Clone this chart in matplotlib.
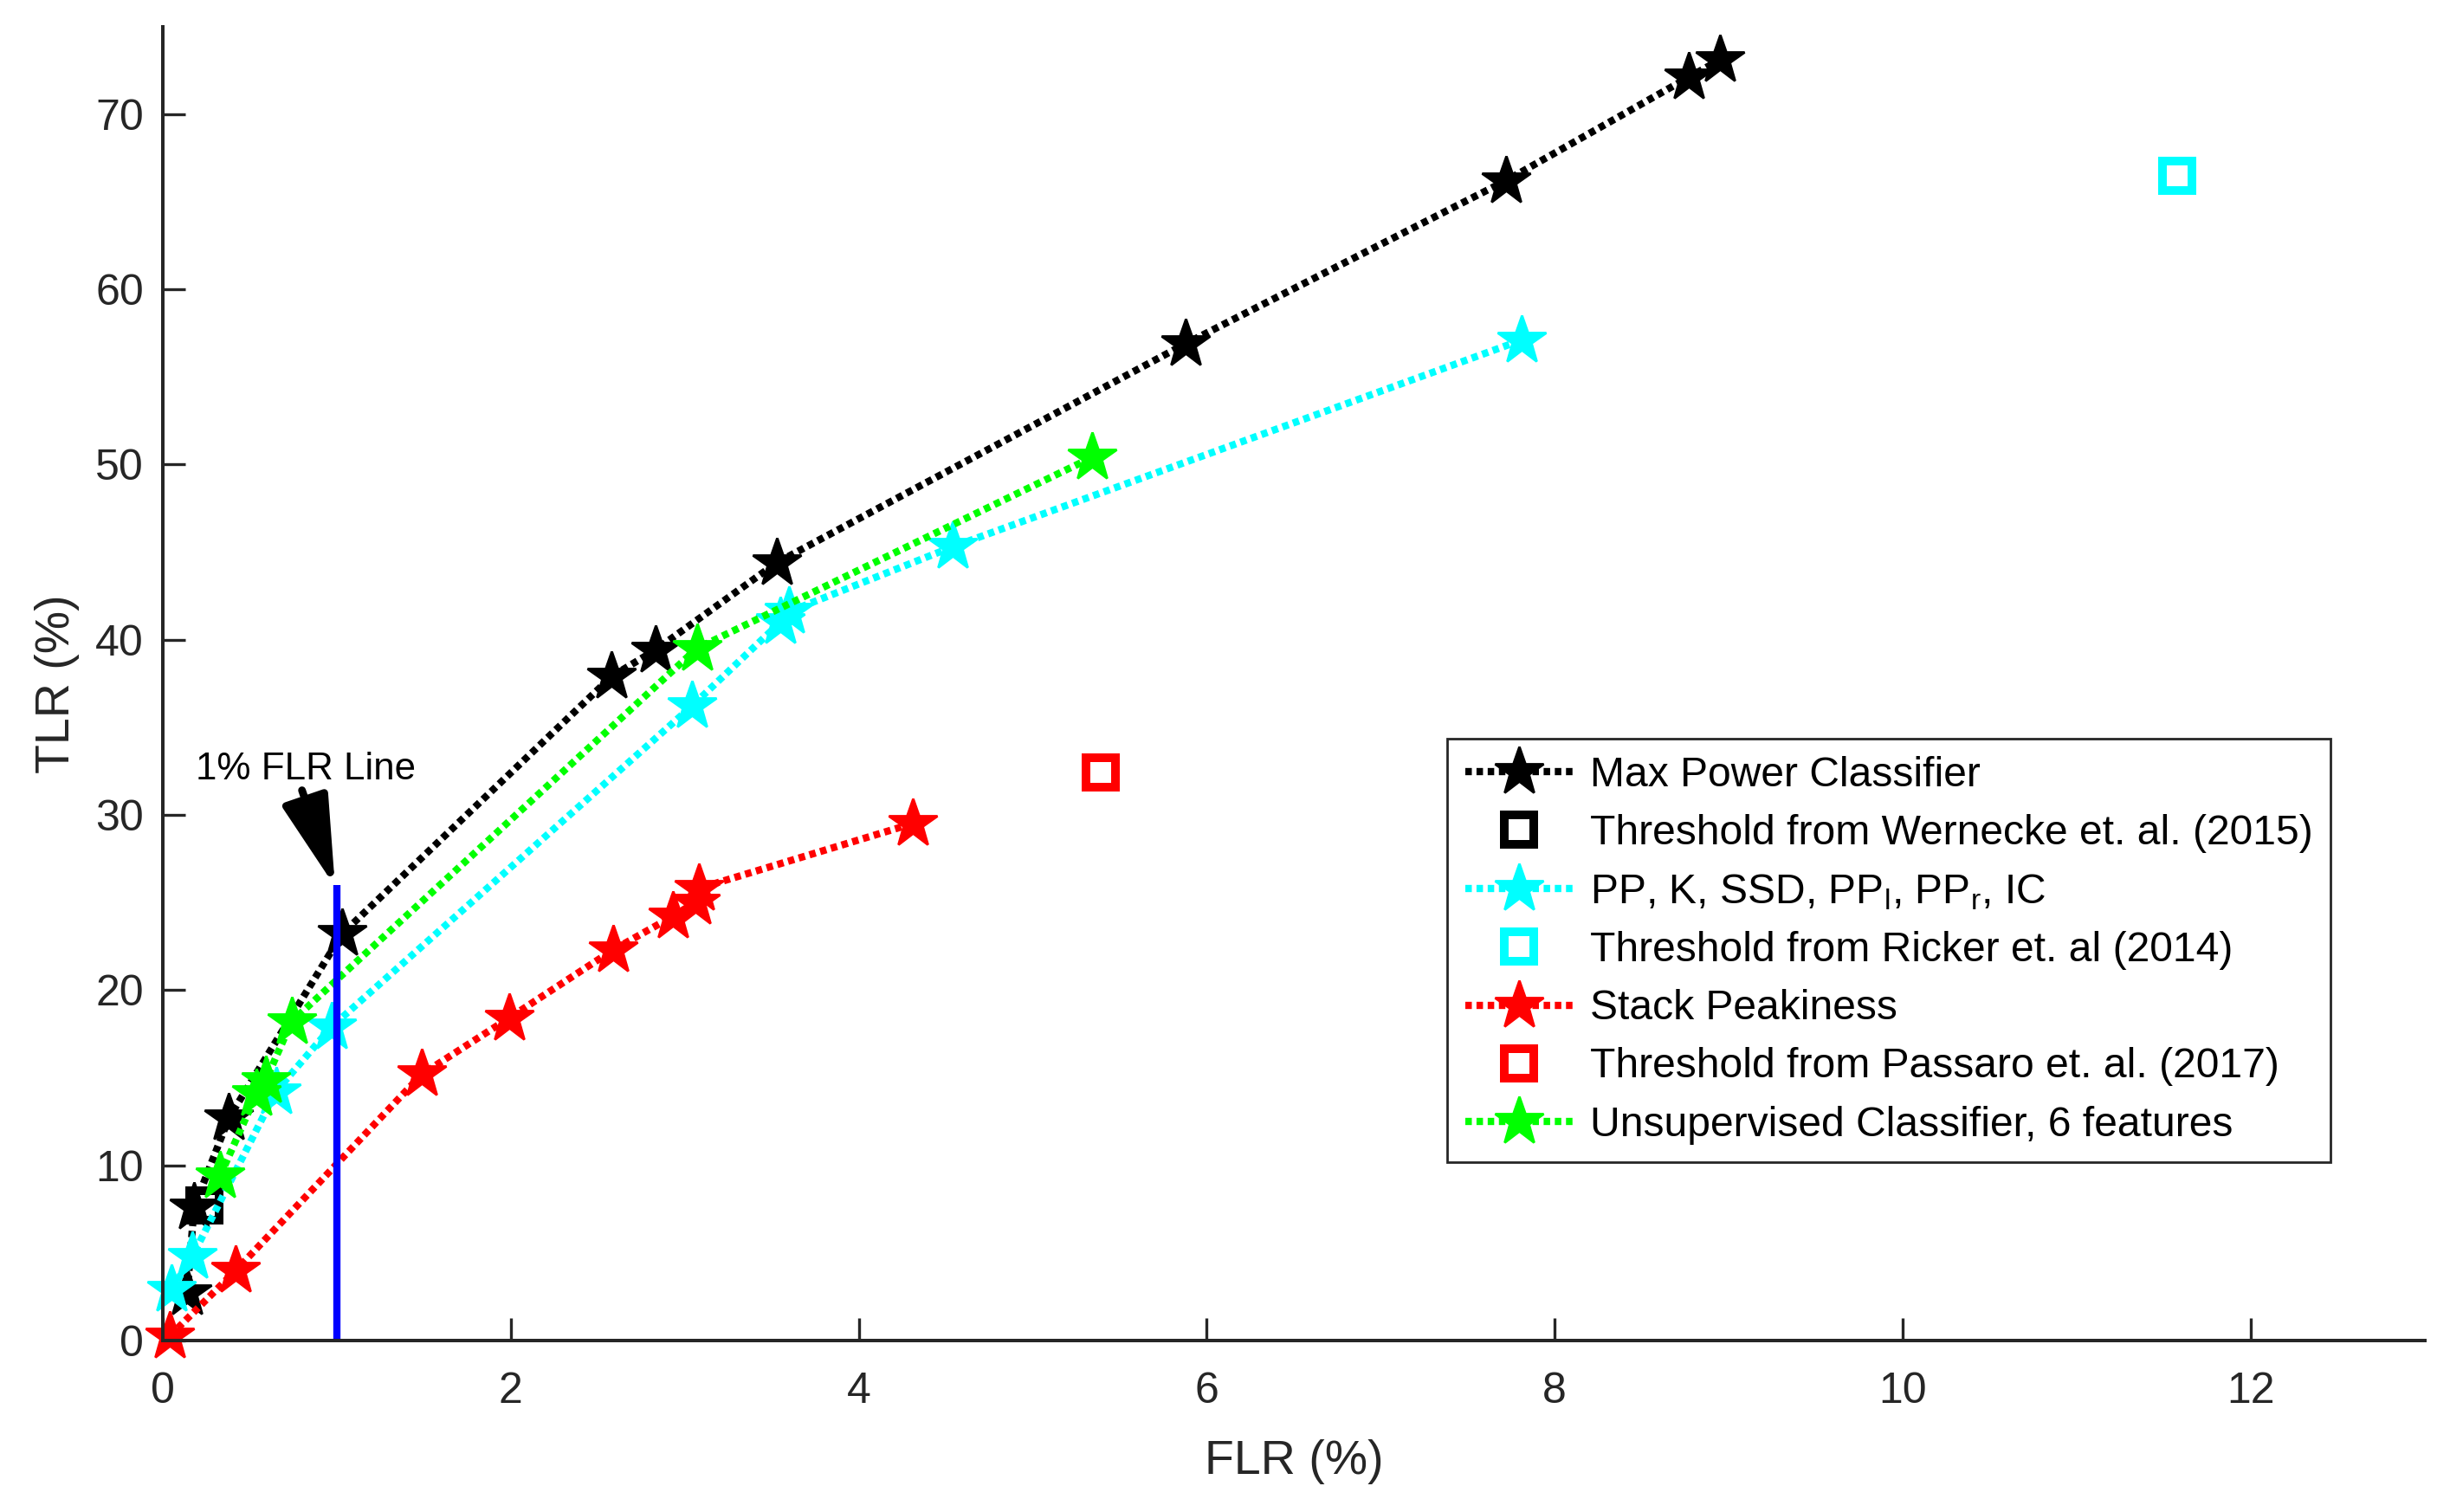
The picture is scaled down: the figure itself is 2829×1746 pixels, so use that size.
import matplotlib
matplotlib.use("Agg")
import matplotlib.pyplot as plt

plt.rcParams['font.family'] = ['Liberation Sans', 'DejaVu Sans']
plt.rcParams['mathtext.fontset'] = 'custom'
plt.rcParams['mathtext.rm'] = 'Liberation Sans'

# ---- data ----
max_power_flr = [0.14, 0.18, 0.38, 1.03, 2.58, 2.83, 3.53, 5.88, 7.72, 8.77, 8.95]
max_power_tlr = [2.7, 7.6, 12.7, 23.2, 37.9, 39.4, 44.4, 56.9, 66.2, 72.1, 73.1]

wernecke_flr = [0.24]
wernecke_tlr = [7.7]

pp_flr = [0.05, 0.17, 0.65, 0.97, 3.04, 3.55, 3.60, 4.54, 7.81]
pp_tlr = [2.9, 4.8, 14.2, 17.9, 36.2, 41.0, 41.6, 45.3, 57.1]

ricker_flr = [11.58]
ricker_tlr = [66.5]

stack_flr = [0.04, 0.42, 1.49, 1.99, 2.59, 2.93, 3.06, 3.08, 4.31]
stack_tlr = [0.25, 4.0, 15.2, 18.4, 22.3, 24.2, 25.0, 25.8, 29.5]

passaro_flr = [5.39]
passaro_tlr = [32.4]

unsup_flr = [0.33, 0.54, 0.59, 0.74, 3.07, 5.34]
unsup_tlr = [9.4, 14.1, 14.8, 18.2, 39.5, 50.4]

labels = [
    'Max Power Classifier',
    'Threshold from Wernecke et. al. (2015)',
    r'PP, K, SSD, PP$_\mathregular{l}$, PP$_\mathregular{r}$, IC',
    'Threshold from Ricker et. al (2014)',
    'Stack Peakiness',
    'Threshold from Passaro et. al. (2017)',
    'Unsupervised Classifier, 6 features',
]

flr_line_x = [1, 1]
flr_line_y = [0, 26]

xticks = [0, 2, 4, 6, 8, 10, 12]
yticks = [0, 10, 20, 30, 40, 50, 60, 70]

# ---- figure ----
fig = plt.figure(figsize=(14.145, 8.73), dpi=200)
ax = fig.add_axes([0.06645, 0.1135, 0.9232, 0.8690])

ls_dot = (0, (0.9, 0.65))
lw = 3.0
ms_star = 21
ms_sq = 12
mew_sq = 3.6

ax.plot(max_power_flr, max_power_tlr, linestyle=ls_dot, lw=lw, color='k',
        marker='*', ms=ms_star, label=labels[0], clip_on=False)
ax.plot(wernecke_flr, wernecke_tlr, linestyle='none', marker='s', ms=ms_sq,
        mew=mew_sq, mfc='none', mec='k', label=labels[1], clip_on=False)
ax.plot(pp_flr, pp_tlr, linestyle=ls_dot, lw=lw, color='#00FFFF',
        marker='*', ms=ms_star, label=labels[2], clip_on=False)
ax.plot(ricker_flr, ricker_tlr, linestyle='none', marker='s', ms=ms_sq,
        mew=mew_sq, mfc='none', mec='#00FFFF', label=labels[3], clip_on=False)
ax.plot(stack_flr, stack_tlr, linestyle=ls_dot, lw=lw, color='#FF0000',
        marker='*', ms=ms_star, label=labels[4], clip_on=False)
ax.plot(passaro_flr, passaro_tlr, linestyle='none', marker='s', ms=ms_sq,
        mew=mew_sq, mfc='none', mec='#FF0000', label=labels[5], clip_on=False)
ax.plot(unsup_flr, unsup_tlr, linestyle=ls_dot, lw=lw, color='#00FF00',
        marker='*', ms=ms_star, label=labels[6], clip_on=False)

ax.plot(flr_line_x, flr_line_y, color='#0000FF', lw=3.0, solid_capstyle='butt')

ax.annotate('', xy=(0.99, 25.9), xytext=(0.80, 31.4),
            arrowprops=dict(arrowstyle='-|>,head_length=1.6,head_width=0.42',
                            lw=3.2, color='k', shrinkA=0, shrinkB=0,
                            mutation_scale=20))
ax.text(0.19, 32.6, '1% FLR Line', fontsize=15.8, ha='left', va='center', color='k')

ax.set_xlim(0, 13)
ax.set_ylim(0, 75)
ax.set_xticks(xticks)
ax.set_yticks(yticks)

for s in ['top', 'right']:
    ax.spines[s].set_visible(False)
for s in ['left', 'bottom']:
    ax.spines[s].set_color('#262626')
    ax.spines[s].set_linewidth(1.44)

ax.tick_params(axis='both', direction='in', length=9.4, width=1.2,
               color='#262626', labelcolor='#262626', labelsize=18)
ax.tick_params(axis='x', pad=13)
ax.tick_params(axis='y', pad=8)

ax.set_xlabel('FLR (%)', fontsize=20, color='#262626')
ax.set_ylabel('TLR (%)', fontsize=20, color='#262626')
ax.xaxis.set_label_coords(0.5, -0.075)
ax.yaxis.set_label_coords(-0.0366, 0.5)

leg = ax.legend(loc='upper left', bbox_to_anchor=(0.568, 0.458), borderaxespad=0,
                fontsize=17.3, frameon=True, fancybox=False, framealpha=1,
                edgecolor='#262626', handlelength=2.6, handletextpad=0.4,
                borderpad=0.42, labelspacing=0.46, numpoints=1)
leg.get_frame().set_linewidth(1.0)

fig.savefig('out.png', dpi=200)
